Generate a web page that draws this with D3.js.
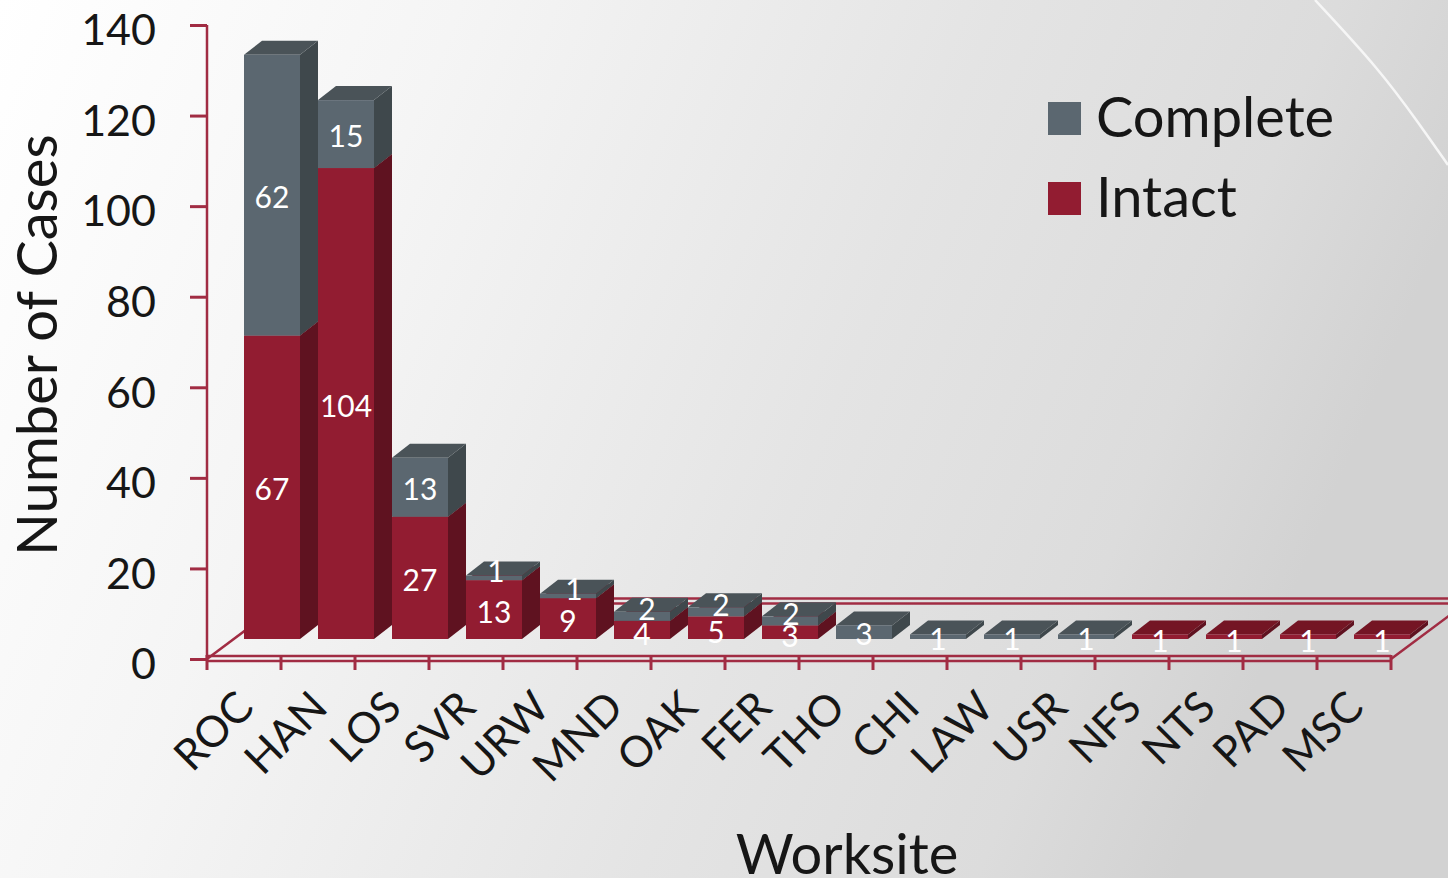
<!DOCTYPE html>
<html><head><meta charset="utf-8">
<script src="https://cdnjs.cloudflare.com/ajax/libs/d3/7.8.5/d3.min.js"></script>
<style>html,body{margin:0;padding:0;overflow:hidden;background:#fff}svg{display:block}text{font-family:Lato,"Open Sans",sans-serif}</style>
</head><body><script>
const categories=["ROC","HAN","LOS","SVR","URW","MND","OAK","FER","THO","CHI","LAW","USR","NFS","NTS","PAD","MSC"];
const intact=[67,104,27,13,9,4,5,3,0,0,0,0,1,1,1,1];
const complete=[62,15,13,1,1,2,2,2,3,1,1,1,0,0,0,0];
const yTicks=[0,20,40,60,80,100,120,140];
const W=1448,H=878;
const x=d3.scaleBand().domain(categories).range([207,1391]);
const y=d3.scaleLinear().domain([0,140]).range([659,25]);
const baseShift=20, dx=18, dy=14, barW=56;
const wallDx=75, wallDy=56;
const RED="#921c31",REDS="#5f1220",REDT="#741524",GR="#5b6770",GRS="#3f484c",GRT="#4a5358",LINE="#a12c43";
const INK="#161616";
const svg=d3.select("body").append("svg").attr("width",W).attr("height",H);
const defs=svg.append("defs");
const g=defs.append("linearGradient").attr("id","bg").attr("x1","0").attr("y1","0").attr("x2","1").attr("y2","0.25");
[[0,"#ffffff"],[0.3,"#f5f5f5"],[0.65,"#e4e4e4"],[0.87,"#dcdcdc"],[1,"#d2d2d2"]].forEach(s=>g.append("stop").attr("offset",s[0]).attr("stop-color",s[1]));
svg.append("rect").attr("width",W).attr("height",H).attr("fill","url(#bg)");
svg.append("path").attr("d",d3.line().curve(d3.curveBasis)([[1315,0],[1380,70],[1420,125],[1448,165]])).attr("fill","none").attr("stroke","#f6f6f6").attr("stroke-width",2.5);

// frame: walls and floor
const x0=x.range()[0],x1=x.range()[1];
const fr=svg.append("g").attr("fill","none").attr("stroke",LINE);
fr.append("path").attr("stroke-width",2.5).attr("d",`M${x0} ${y(0)}V${y(140)}`);
fr.append("path").attr("stroke-width",2.5).attr("d",`M${x0} ${y(0)}L${x0+wallDx} ${y(0)-wallDy}`);
fr.append("path").attr("stroke-width",2.5).attr("d",`M${x1} ${y(0)}L${x1+wallDx} ${y(0)-wallDy}`);
[0,5].forEach(o=>{
  fr.append("path").attr("stroke-width",2.5).attr("d",`M${x0+wallDx} ${y(0)-60.5+o}H${W}`);
  fr.append("path").attr("stroke-width",2.5).attr("d",`M${x0} ${y(0)-3+o}H${x1}`);
});
// axis ticks
const axY=d3.axisLeft(y).tickValues(yTicks).tickSize(17).tickPadding(34).tickFormat(d3.format("d"));
const ay=svg.append("g").attr("transform",`translate(${x0},0)`).call(axY);
ay.select(".domain").remove();
ay.selectAll("line").attr("stroke",LINE).attr("stroke-width",3);
ay.selectAll("text").attr("font-size",43).attr("fill",INK).attr("dy","0.46em");
const tickPos=categories.map(c=>x(c)).concat([x1]);
svg.append("g").selectAll("line").data(tickPos).join("line")
  .attr("x1",d=>d).attr("x2",d=>d).attr("y1",y(0)-4).attr("y2",y(0)+11).attr("stroke",LINE).attr("stroke-width",3);

// bars
const rows=categories.map((c,i)=>({c,i,a:intact[i],b:complete[i]}));
const bx=d=>x(d.c)+x.bandwidth()/2;
function seg(sel,lo,hi,front,side,top){
  const gg=sel.append("g");
  rows.forEach(d=>{
    const from=lo(d),to=hi(d); if(to<=from)return;
    const X=bx(d),yb=y(from)-baseShift,yt=y(to)-baseShift;
    gg.append("polygon").attr("fill",side).attr("points",[[X+barW,yb],[X+barW+dx,yb-dy],[X+barW+dx,yt-dy],[X+barW,yt]].join(" "));
    gg.append("polygon").attr("fill",top).attr("points",[[X,yt],[X+dx,yt-dy],[X+barW+dx,yt-dy],[X+barW,yt]].join(" "));
    gg.append("rect").attr("x",X).attr("y",yt).attr("width",barW).attr("height",yb-yt).attr("fill",front);
  });
}
const bars=svg.append("g");
seg(bars,d=>0,d=>d.a,RED,REDS,REDT);
seg(bars,d=>d.a,d=>d.a+d.b,GR,GRS,GRT);

// value labels
const nudge={SVR:2,URW:6,MND:5,OAK:5,FER:1};
const lab=svg.append("g").attr("fill","#fff").attr("font-size",30).attr("text-anchor","middle");
rows.forEach(d=>{
  const X=bx(d)+barW/2;
  if(d.a>0){const small=d.a<=5;
    lab.append("text").attr("x",X).attr("y",(y(0)+y(d.a))/2-baseShift+(small?15:13)).text(d.a);}
  if(d.b>0){const stacked=d.a>0&&d.b<=2;
    lab.append("text").attr("x",X+(stacked?nudge[d.c]:0)).attr("y",(y(d.a)+y(d.a+d.b))/2-baseShift+13-(stacked?9:0)).text(d.b);}
});

// category labels
svg.append("g").selectAll("text").data(categories).join("text")
  .attr("transform",c=>`translate(${x(c)+x.bandwidth()/2+4},${y(0)+43}) rotate(-45)`)
  .attr("text-anchor","end").attr("dominant-baseline","middle").attr("font-size",43).attr("fill",INK).text(c=>c);

// titles
svg.append("text").attr("transform",`translate(57,345) rotate(-90)`).attr("text-anchor","middle").attr("font-size",56).attr("fill",INK).text("Number of Cases");
svg.append("text").attr("x",847).attr("y",874).attr("text-anchor","middle").attr("font-size",56).attr("fill",INK).text("Worksite");

// legend
const legend=[["Complete",GR],["Intact",RED]];
const lg=svg.append("g").selectAll("g").data(legend).join("g").attr("transform",(d,i)=>`translate(1048,${102+i*80})`);
lg.append("rect").attr("width",33).attr("height",33).attr("fill",d=>d[1]);
lg.append("text").attr("x",48).attr("y",35).attr("font-size",56).attr("fill",INK).text(d=>d[0]);
</script></body></html>
